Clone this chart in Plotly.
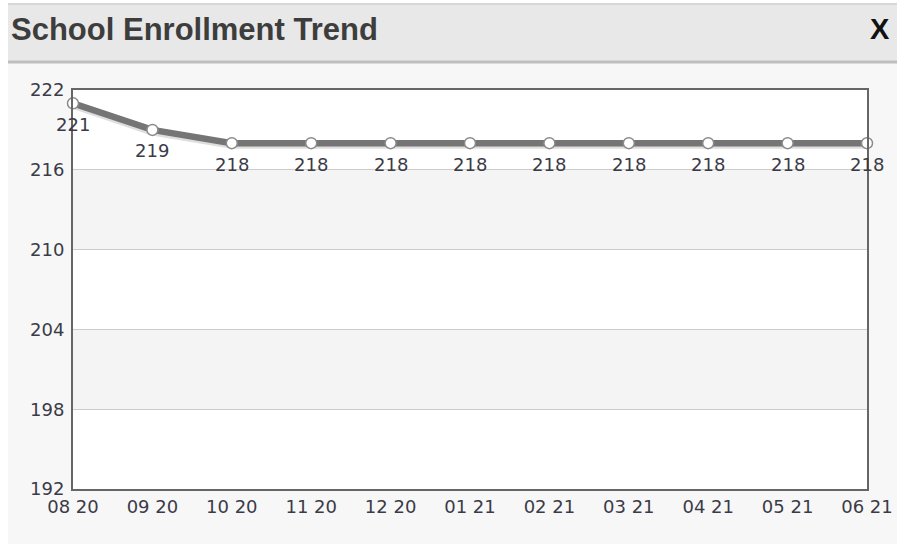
import plotly.graph_objects as go

months = ["08 20", "09 20", "10 20", "11 20", "12 20", "01 21", "02 21", "03 21", "04 21", "05 21", "06 21"]
enrollment = [221, 219, 218, 218, 218, 218, 218, 218, 218, 218, 218]
y_ticks = [192, 198, 204, 210, 216, 222]
title_text = "School Enrollment Trend"

x_idx = list(range(len(months)))

W, H = 897, 544
ML, MR, MT, MB = 73, 30, 90, 55
pw = W - ML - MR
ph = H - MT - MB


def px_x(x):
    return (x - ML) / pw


def px_y(y):
    return (H - MB - y) / ph


fig = go.Figure()

# line shadow
fig.add_trace(go.Scatter(
    x=x_idx, y=[v - 0.12 for v in enrollment], mode="lines",
    line=dict(color="rgba(0,0,0,0.13)", width=8),
    hoverinfo="skip", showlegend=False, cliponaxis=False))

fig.add_trace(go.Scatter(
    x=x_idx, y=enrollment, mode="lines+markers",
    line=dict(color="#757575", width=6.5),
    marker=dict(size=11, color="white", line=dict(color="#8a8a8a", width=1.5)),
    showlegend=False, cliponaxis=False))

font_small = dict(family="DejaVu Sans", size=18, color="#3b3b48")

# value labels under points
for xi, v in zip(x_idx, enrollment):
    fig.add_annotation(x=xi, y=v, xref="x", yref="y", text=str(v), showarrow=False,
                       yshift=-21, xanchor="center", yanchor="middle", font=font_small)

# alternating bands
for lo, hi in [(210, 216), (198, 204)]:
    fig.add_shape(type="rect", xref="x", yref="y", x0=0, x1=10, y0=lo, y1=hi,
                  layer="below", line=dict(width=0), fillcolor="#f4f4f4")

# white page margin at left and top
fig.add_shape(type="rect", xref="paper", yref="paper",
              x0=px_x(0), x1=px_x(8), y0=px_y(H), y1=px_y(0),
              fillcolor="white", line=dict(width=0), layer="below")
fig.add_shape(type="rect", xref="paper", yref="paper",
              x0=px_x(0), x1=px_x(W), y0=px_y(3), y1=px_y(0),
              fillcolor="white", line=dict(width=0), layer="below")
# header bar
fig.add_shape(type="rect", xref="paper", yref="paper",
              x0=px_x(8), x1=px_x(W), y0=px_y(62), y1=px_y(3),
              fillcolor="#e8e8e8", line=dict(width=0), layer="below")
fig.add_shape(type="line", xref="paper", yref="paper",
              x0=px_x(8), x1=px_x(W), y0=px_y(62), y1=px_y(62),
              line=dict(color="#bebebe", width=3), layer="below")
fig.add_shape(type="line", xref="paper", yref="paper",
              x0=px_x(8), x1=px_x(W), y0=px_y(4), y1=px_y(4),
              line=dict(color="#d2d2d2", width=1.5), layer="below")

fig.add_annotation(text="<b>" + title_text + "</b>", xref="paper", yref="paper",
                   x=px_x(9), y=px_y(29), xanchor="left", yanchor="middle",
                   showarrow=False,
                   font=dict(family="Liberation Sans", size=31, color="#3d3d3d"))
fig.add_annotation(text="<b>X</b>", xref="paper", yref="paper",
                   x=px_x(892), y=px_y(29), xanchor="right", yanchor="middle",
                   showarrow=False,
                   font=dict(family="Liberation Sans", size=29, color="#111111"))

fig.update_layout(
    width=W, height=H,
    autosize=False,
    margin=dict(l=ML, r=MR, t=MT, b=MB, autoexpand=False),
    paper_bgcolor="#f7f7f7",
    plot_bgcolor="white",
    xaxis=dict(range=[0, 10], tickmode="array", tickvals=x_idx, ticktext=months,
               automargin=False,
               showgrid=False, zeroline=False, showline=True, linecolor="#666666",
               linewidth=2, mirror=True, ticks="", ticklabelstandoff=0,
               tickfont=font_small),
    yaxis=dict(range=[192, 222], tickmode="array", tickvals=y_ticks,
               automargin=False,
               showgrid=True, gridcolor="#cccccc", gridwidth=1, zeroline=False,
               showline=True, linecolor="#666666", linewidth=2, mirror=True, ticks="",
               ticklabelstandoff=3,
               tickfont=font_small),
)

fig.write_html(
    "out.html",
    config={"displayModeBar": False, "responsive": False},
    post_script="document.body.style.margin='0';document.body.style.overflow='hidden';",
)
